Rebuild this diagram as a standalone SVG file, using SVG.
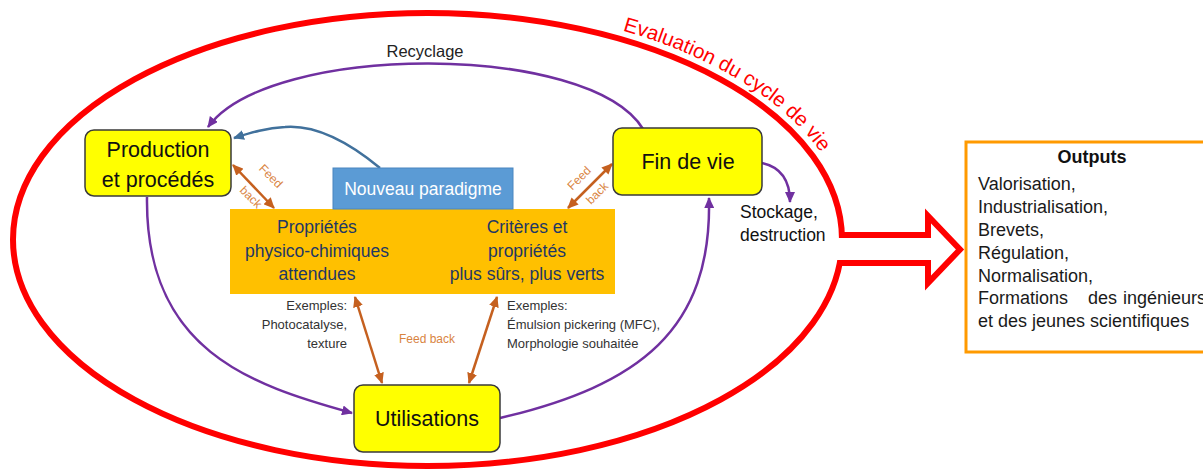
<svg xmlns="http://www.w3.org/2000/svg" width="1203" height="470" viewBox="0 0 1203 470">
<style>
.t{font-family:"Liberation Sans",Arial,sans-serif}
.node rect{fill:#FFFF00;stroke:#3a3a3a;stroke-width:1.5}
.nl{font-size:21.5px;fill:#111;text-anchor:middle}
.ob{font-size:17.5px;fill:#1F3864;text-anchor:middle}
.ex{font-size:13px;fill:#333}
.fb{font-size:12px;fill:#D9843F}
.pur{fill:none;stroke:#7030A0;stroke-width:2.5}
.org{fill:none;stroke:#C5601F;stroke-width:2.5}
.out{font-size:18px;fill:#1a1a1a}
</style>
<defs>
<marker id="ap" markerUnits="userSpaceOnUse" markerWidth="12" markerHeight="10" refX="10" refY="5" orient="auto"><path d="M0,0 L11,5 L0,10 z" fill="#7030A0"/></marker>
<marker id="ab" markerUnits="userSpaceOnUse" markerWidth="12" markerHeight="10" refX="10" refY="5" orient="auto"><path d="M0,0 L11,5 L0,10 z" fill="#41719C"/></marker>
<marker id="ao" markerUnits="userSpaceOnUse" markerWidth="12" markerHeight="10" refX="10" refY="5" orient="auto-start-reverse"><path d="M0,0 L11,5 L0,10 z" fill="#C5601F"/></marker>
</defs>
<rect width="1203" height="470" fill="#fff"/>

<g id="lca">
<ellipse cx="427.5" cy="239.5" rx="414.5" ry="226.5" fill="none" stroke="#FF0000" stroke-width="6"/>
<rect x="834" y="238" width="96" height="22" fill="#fff"/>
<path d="M839,235 L928,235 L928,216 L960,249.5 L928,283 L928,263 L839,263" fill="#fff" stroke="#FF0000" stroke-width="6" stroke-linejoin="miter"/>
<path id="lcapath" d="M612,27.5 A423.5,235.5 0 0 1 851,239.5" fill="none"/>
<text class="t" font-size="20.5" fill="#FF0000"><textPath href="#lcapath" startOffset="11">Evaluation du cycle de vie</textPath></text>
</g>

<g id="connectors">
<path class="pur" d="M643,129 C590,42 270,42 208,127" marker-end="url(#ap)"/>
<path class="pur" d="M147,197 C145,350 250,385 352,413" marker-end="url(#ap)"/>
<path class="pur" d="M500,418 C640,385 712,330 709,198" marker-end="url(#ap)"/>
<path class="pur" d="M762,163 C780,167 790,180 790,202" marker-end="url(#ap)"/>
<path fill="none" stroke="#41719C" stroke-width="2.5" d="M380,168 C340,135 310,125 285,127 C265,128 250,133 234,138" marker-end="url(#ab)"/>
<path class="org" d="M233,165 L274,208" marker-start="url(#ao)" marker-end="url(#ao)"/>
<path class="org" d="M568,208 L612,164" marker-start="url(#ao)" marker-end="url(#ao)"/>
<path class="org" d="M355,297 L382,383" marker-start="url(#ao)" marker-end="url(#ao)"/>
<path class="org" d="M497,297 L469,383" marker-start="url(#ao)" marker-end="url(#ao)"/>
<path class="org" d="M408,253 L442,253" marker-start="url(#ao)" marker-end="url(#ao)"/>
<text class="t" x="425" y="57" font-size="16.5" fill="#222" text-anchor="middle">Recyclage</text>
<text class="t fb" transform="translate(268,179) rotate(45)" text-anchor="middle">Feed</text>
<text class="t fb" transform="translate(248,200) rotate(45)" text-anchor="middle">back</text>
<text class="t fb" transform="translate(582,181) rotate(-45)" text-anchor="middle">Feed</text>
<text class="t fb" transform="translate(600,196) rotate(-45)" text-anchor="middle">back</text>
<text class="t fb" x="427" y="343" text-anchor="middle">Feed back</text>
</g>

<g id="criteria">
<rect x="230" y="209" width="385" height="85" fill="#FFC000"/>
<text class="t ob" x="317" y="233">Propriétés</text>
<text class="t ob" x="317" y="257">physico-chimiques</text>
<text class="t ob" x="317" y="280">attendues</text>
<text class="t ob" x="527" y="233">Critères et</text>
<text class="t ob" x="527" y="257">propriétés</text>
<text class="t ob" x="527" y="280">plus sûrs, plus verts</text>
</g>

<g id="paradigme">
<rect x="333" y="168" width="180" height="41" fill="#5B9BD5" stroke="#4A86C0" stroke-width="1"/>
<text class="t" x="423" y="195" font-size="17.5" fill="#fff" text-anchor="middle">Nouveau paradigme</text>
</g>

<g id="production" class="node">
<rect x="85" y="130" width="146" height="66" rx="9"/>
<text class="t nl" x="158" y="157">Production</text>
<text class="t nl" x="158" y="187">et procédés</text>
</g>

<g id="findevie" class="node">
<rect x="613" y="128" width="149" height="67" rx="9"/>
<text class="t nl" x="688" y="169">Fin de vie</text>
</g>

<g id="utilisations" class="node">
<rect x="354" y="385" width="146" height="67" rx="9"/>
<text class="t nl" x="427" y="426">Utilisations</text>
</g>

<g id="examples">
<text class="t ex" x="347" y="310" text-anchor="end">Exemples:</text>
<text class="t ex" x="347" y="329" text-anchor="end">Photocatalyse,</text>
<text class="t ex" x="347" y="348" text-anchor="end">texture</text>
<text class="t ex" x="507" y="310">Exemples:</text>
<text class="t ex" x="507" y="329">Émulsion pickering (MFC),</text>
<text class="t ex" x="507" y="348">Morphologie souhaitée</text>
</g>

<g id="stockage">
<text class="t" x="740" y="218" font-size="17.5" fill="#111">Stockage,</text>
<text class="t" x="740" y="241" font-size="17.5" fill="#111">destruction</text>
</g>

<g id="outputs">
<rect x="966" y="142" width="260" height="210" fill="#fff" stroke="#FF9A00" stroke-width="3"/>
<text class="t" x="1092" y="163" font-size="18" font-weight="bold" fill="#111" text-anchor="middle">Outputs</text>
<text class="t out" x="978" y="190">Valorisation,</text>
<text class="t out" x="978" y="213">Industrialisation,</text>
<text class="t out" x="978" y="236">Brevets,</text>
<text class="t out" x="978" y="259">Régulation,</text>
<text class="t out" x="978" y="282">Normalisation,</text>
<text class="t out" y="304"><tspan x="978">Formations</tspan><tspan x="1088">des</tspan><tspan x="1123">ingénieurs</tspan></text>
<text class="t out" x="978" y="327">et des jeunes scientifiques</text>
</g>
</svg>
